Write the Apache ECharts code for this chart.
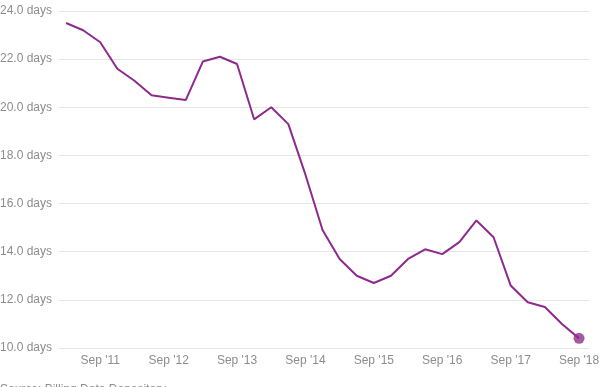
<!DOCTYPE html>
<html>
<head>
<meta charset="utf-8">
<script src="https://cdn.jsdelivr.net/npm/echarts@6/dist/echarts.min.js"></script>
<style>
html,body{margin:0;padding:0;background:#fff;}
#chart{width:600px;height:387px;}
</style>
</head>
<body>
<div id="chart"></div>
<script>
// Quarterly categories, Mar 2011 .. Sep 2018
var categories = ["Mar '11","Jun '11","Sep '11","Dec '11","Mar '12","Jun '12","Sep '12","Dec '12",
  "Mar '13","Jun '13","Sep '13","Dec '13","Mar '14","Jun '14","Sep '14","Dec '14",
  "Mar '15","Jun '15","Sep '15","Dec '15","Mar '16","Jun '16","Sep '16","Dec '16",
  "Mar '17","Jun '17","Sep '17","Dec '17","Mar '18","Jun '18","Sep '18"];
var days = [23.5,23.2,22.7,21.6,21.1,20.5,20.4,20.3,
  21.9,22.1,21.8,19.5,20.0,19.3,17.2,14.9,
  13.7,13.0,12.7,13.0,13.7,14.1,13.9,14.4,
  15.3,14.6,12.6,11.9,11.7,11.0,10.4];
var xTickLabels = ["Sep '11","Sep '12","Sep '13","Sep '14","Sep '15","Sep '16","Sep '17","Sep '18"];
var yTicks = [10,12,14,16,18,20,22,24];

var xTickIdx = xTickLabels.map(function(l){ return categories.indexOf(l); });
var lineData = days.map(function(v,i){ return [i, v]; });
var last = lineData[lineData.length-1];

var chart = echarts.init(document.getElementById('chart'), null, {renderer:'canvas'});
chart.setOption({
  animation:false,
  grid:{left:58, right:10, top:11, bottom:39, containLabel:false, outerBoundsMode:'none'},
  textStyle:{fontFamily:'"Liberation Sans", Arial, sans-serif'},
  xAxis:{
    type:'value', min:-0.47, max:30.64,
    axisLine:{show:false}, axisTick:{show:false}, splitLine:{show:false},
    axisLabel:{
      customValues:xTickIdx,
      color:'#8c8c8c', fontSize:12, margin:7,
      formatter:function(v){ return categories[Math.round(v)]; }
    }
  },
  yAxis:{
    type:'value', min:yTicks[0], max:yTicks[yTicks.length-1], interval:2,
    axisLine:{show:false}, axisTick:{show:false},
    splitLine:{lineStyle:{color:'#e6e6e6', width:1}},
    axisLabel:{color:'#8c8c8c', fontSize:12, margin:6,
      formatter:function(v){ return v.toFixed(1)+' days'; }}
  },
  series:[
    {type:'line', data:lineData, showSymbol:false, symbol:'none',
     lineStyle:{color:'#8e2a8c', width:2}},
    {type:'scatter', data:[last], symbolSize:11,
     itemStyle:{color:'#a0509e', opacity:0.95}}
  ],
  graphic:[{type:'text', left:0, top:384,
    style:{text:'Source: Billing Data Depository', fill:'#8c8c8c', font:'12px "Liberation Sans", Arial, sans-serif'}}]
});
</script>
</body>
</html>
